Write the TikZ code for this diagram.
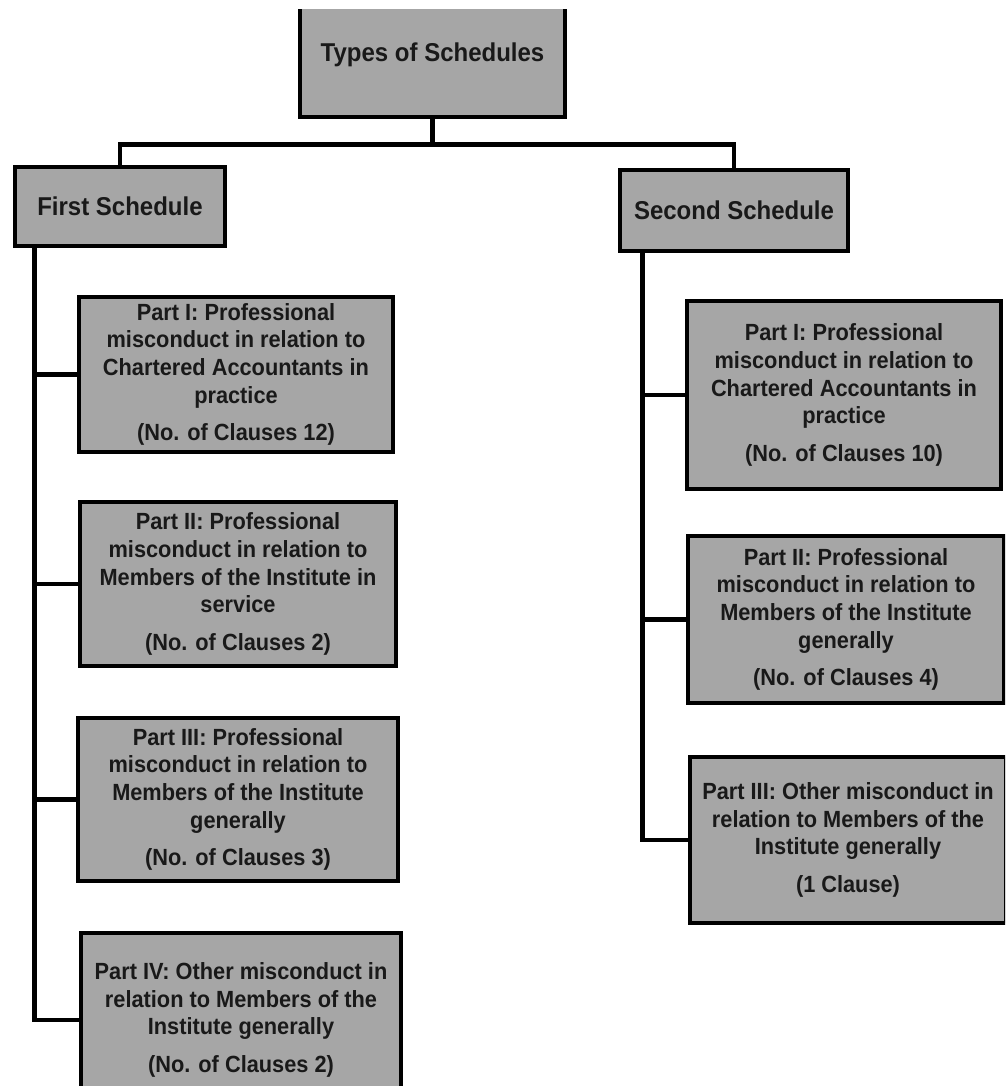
\documentclass[tikz,border=0pt]{standalone}
\usepackage{fontspec}
\setmainfont{Liberation Sans}[FakeStretch=0.93]
\definecolor{boxgray}{HTML}{A6A6A6}
\begin{document}
\begin{tikzpicture}[x=1pt,y=-1pt,
  box/.style={draw=black, fill=boxgray, line width=4.5pt, inner sep=0pt, align=center,
    text=black!90, font=\bfseries\fontsize{23.4}{27.6}\selectfont},
  head/.style={box, font=\bfseries\fontsize{25.8}{29}\selectfont},
  link/.style={line width=4.8pt, line join=miter}]
\useasboundingbox (0,0) rectangle (1005,1086);
\begin{scope}
\clip (0,10) rectangle (1005,1086);
% headings
\node[head, minimum width=265pt, minimum height=124pt] (top) at (432.5,55) {Types of Schedules};
\node[head, minimum width=210pt, minimum height=79pt] (first) at (120,206.5) {First Schedule};
\node[head, minimum width=228pt, minimum height=81pt] (second) at (734,210.5) {Second Schedule};
% first schedule parts
\node[box, minimum width=314pt, minimum height=155pt] (l1) at (236,374.5)
  {Part I: Professional\\misconduct in relation to\\Chartered Accountants in\\practice\\[10pt](No. of Clauses 12)};
\node[box, minimum width=316pt, minimum height=164pt] (l2) at (238,584)
  {Part II: Professional\\misconduct in relation to\\Members of the Institute in\\service\\[10pt](No. of Clauses 2)};
\node[box, minimum width=320pt, minimum height=163pt] (l3) at (238,799.5)
  {Part III: Professional\\misconduct in relation to\\Members of the Institute\\generally\\[10pt](No. of Clauses 3)};
\node[box, minimum width=320pt, minimum height=174pt] (l4) at (241,1020)
  {Part IV: Other misconduct in\\relation to Members of the\\Institute generally\\[10pt](No. of Clauses 2)};
% second schedule parts
\node[box, minimum width=314pt, minimum height=188pt] (r1) at (844,395)
  {Part I: Professional\\misconduct in relation to\\Chartered Accountants in\\practice\\[10pt](No. of Clauses 10)};
\node[box, minimum width=316pt, minimum height=167pt] (r2) at (846,619.5)
  {Part II: Professional\\misconduct in relation to\\Members of the Institute\\generally\\[10pt](No. of Clauses 4)};
\node[box, minimum width=316pt, minimum height=166pt] (r3) at (848,840)
  {Part III: Other misconduct in\\relation to Members of the\\Institute generally\\[10pt](1 Clause)};
% connectors
\path (top.south) ++(0,25) coordinate (j);
\draw[link] (top.south) -- (j);
\draw[link] (first.north) |- (j) -| (second.north);
\path (first.south west) ++(22,0) coordinate (t1);
\draw[link] (t1) |- (l4.west);
\draw[link] (t1 |- l1.west) -- (l1.west);
\draw[link] (t1 |- l2.west) -- (l2.west);
\draw[link] (t1 |- l3.west) -- (l3.west);
\path (second.south west) ++(25,0) coordinate (t2);
\draw[link] (t2) |- (r3.west);
\draw[link] (t2 |- r1.west) -- (r1.west);
\draw[link] (t2 |- r2.west) -- (r2.west);
\end{scope}
\end{tikzpicture}
\end{document}
